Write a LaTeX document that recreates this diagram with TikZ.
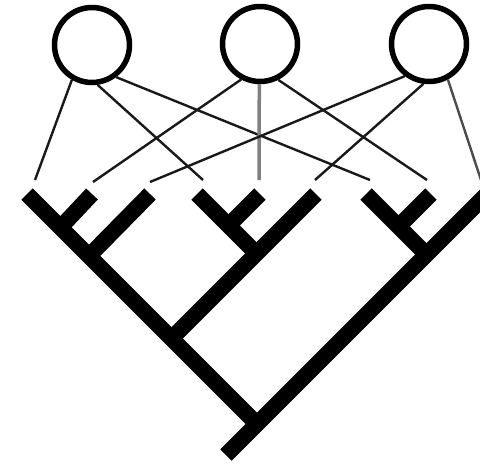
\documentclass[tikz,border=0pt]{standalone}
\begin{document}
\begin{tikzpicture}[x=1pt,y=-1pt,
  ring/.style={circle,draw=black,line width=5.5pt,minimum size=75pt,inner sep=0pt},
  tree/.style={draw=black,line width=16pt,line cap=butt},
  link/.style={draw=black!90,line width=2.4pt,line cap=butt},
  glink/.style={draw=black!50,line width=3.5pt,line cap=butt}]
\clip (0,0) rectangle (480,467);
\fill[white] (0,0) rectangle (480,467);
% circles
\node[ring] (c1) at (92,45) {};
\node[ring] (c2) at (260,44) {};
\node[ring] (c3) at (429,44) {};
% leaf tips of the tree
\coordinate (L1) at (27,194);
\coordinate (L2) at (92,194);
\coordinate (L3) at (150,194);
\coordinate (L4) at (197,194);
\coordinate (L5) at (260,194);
\coordinate (L6) at (316,194);
\coordinate (L7) at (366,194);
\coordinate (L8) at (431,194);
\coordinate (L9) at (487,194);
% joins
\coordinate (J12) at (60.5,227.5);
\coordinate (J3) at (89,256);
\coordinate (J6) at (171.5,338.5);
\coordinate (J45) at (228.5,225.5);
\coordinate (J46) at (256.5,253.5);
\coordinate (J78) at (398.5,226.5);
\coordinate (J79) at (426.5,254.5);
\coordinate (R) at (257,424);
\coordinate (S) at (226,455);
% tree
\draw[tree] (L1) -- (R);
\draw[tree] (L9) -- (S);
\draw[tree] (L2) -- (J12);
\draw[tree] (L3) -- (J3);
\draw[tree] (L6) -- (J6);
\draw[tree] (L4) -- (J46);
\draw[tree] (L5) -- (J45);
\draw[tree] (L8) -- (J78);
\draw[tree] (L7) -- (J79);
% ends of connectors above the leaves
\coordinate (T1) at (35,180);
\coordinate (T2) at (93,182);
\coordinate (T3) at (150,182);
\coordinate (T4) at (203,180);
\coordinate (T5) at (259,180);
\coordinate (T6) at (315,180);
\coordinate (T7) at (370,180);
\coordinate (T8) at (427,180);
\coordinate (T9) at (481,180);
% connectors
\draw[link] (c1.-120) -- (T1);
\draw[link] (c1.-82) -- (T4);
\draw[link] (c1.-53) -- (T7);
\draw[link] (c2.-118) -- (T2);
\draw[glink] (c2.-91) -- (T5);
\draw[link] (c2.-63) -- (T8);
\draw[link] (c3.-127) -- (T3);
\draw[link] (c3.-98) -- (T6);
\draw[link,draw=black!70] (c3.-62) -- (T9);
\end{tikzpicture}
\end{document}
